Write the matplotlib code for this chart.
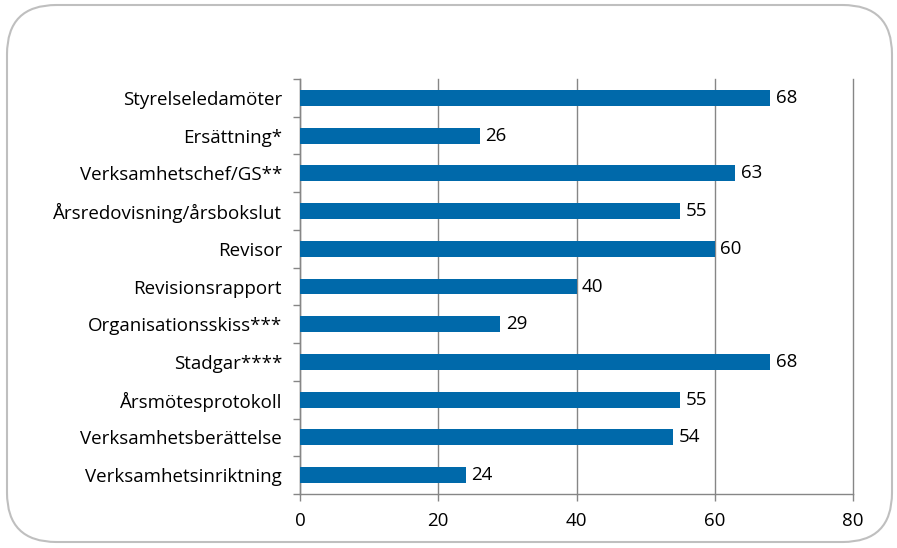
import matplotlib
matplotlib.use("Agg")
import matplotlib.pyplot as plt
from matplotlib.patches import FancyBboxPatch
import numpy as np

categories = ["Styrelseledamöter", "Ersättning*", "Verksamhetschef/GS**",
              "Årsredovisning/årsbokslut", "Revisor", "Revisionsrapport",
              "Organisationsskiss***", "Stadgar****", "Årsmötesprotokoll",
              "Verksamhetsberättelse", "Verksamhetsinriktning"]
values = [68, 26, 63, 55, 60, 40, 29, 68, 55, 54, 24]
xticks = [0, 20, 40, 60, 80]

plt.rcParams['font.family'] = ['Open Sans', 'DejaVu Sans']
FS = 13.5
fig = plt.figure(figsize=(8.97, 5.48), dpi=100)
border = FancyBboxPatch((7/897, 6/548), 885/897, 537/548,
                        boxstyle="round,pad=0,rounding_size=0.055",
                        transform=fig.transFigure, facecolor="white",
                        edgecolor="#BFBFBF", linewidth=1.5,
                        mutation_aspect=897/548, zorder=-5)
fig.patches.append(border)

ax = fig.add_axes([300/897, 1-494/548, 553/897, 415/548])
ax.set_zorder(5)
ax.set_facecolor("none")
n = len(categories)
y = np.arange(n)
ax.barh(y, values, height=0.42, color="#0069AA", zorder=3)
ax.set_ylim(n - 0.5, -0.5)
ax.set_xlim(0, 80)
ax.set_xticks(xticks)
ax.set_xticklabels([str(t) for t in xticks], fontsize=FS)
ax.set_yticks(y)
ax.set_yticklabels(categories, fontsize=FS)
ax.tick_params(axis='y', length=0, pad=13)
ax.set_yticks(np.arange(n + 1) - 0.5, minor=True)
ax.tick_params(axis='y', which='minor', length=5, color="#868686", width=1)
ax.tick_params(axis='x', length=5, color="#868686", width=1, pad=8)
ax.grid(axis='x', color="#868686", linewidth=1, zorder=0, clip_on=False)
for s in ['top', 'right']:
    ax.spines[s].set_visible(False)
for s in ['left', 'bottom']:
    ax.spines[s].set_color("#868686")
    ax.spines[s].set_linewidth(1)
for yi, v in zip(y, values):
    ax.annotate(str(v), (v, yi), xytext=(4, 0), textcoords="offset points",
                va="center", ha="left", fontsize=FS, color="black")

fig.savefig("out.png", dpi=100)
